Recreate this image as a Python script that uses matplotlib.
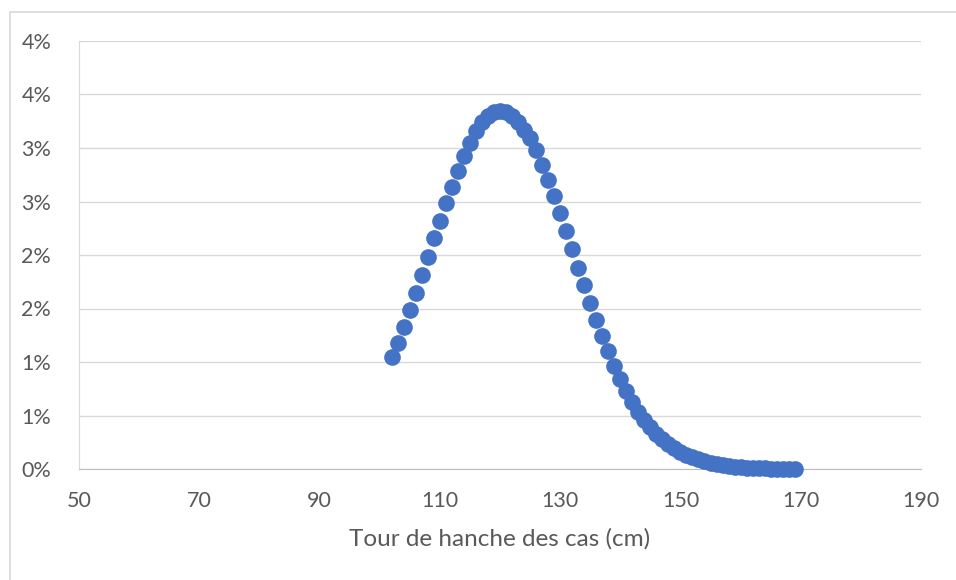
import matplotlib.pyplot as plt
from matplotlib.ticker import FuncFormatter, MultipleLocator, FixedLocator
from matplotlib.lines import Line2D

# tour de hanche (cm) and share of cases
hanche = list(range(102, 170))
part = [0.01047, 0.01178, 0.01327, 0.01486, 0.01645, 0.01813, 0.01981, 0.02159,
        0.02318, 0.02486, 0.02636, 0.02785, 0.02925, 0.03047, 0.03159, 0.03243,
        0.03299, 0.03336, 0.03346, 0.03336, 0.03299, 0.03243, 0.03168, 0.03093,
        0.02981, 0.02841, 0.02701, 0.02551, 0.02393, 0.02224, 0.02056, 0.01879,
        0.01720, 0.01551, 0.01393, 0.01243, 0.01103, 0.00963, 0.00841, 0.00729,
        0.00626, 0.00533, 0.00458, 0.00393, 0.00327, 0.00280, 0.00234, 0.00196,
        0.00159, 0.00131, 0.00112, 0.00093, 0.00075, 0.00056, 0.00047, 0.00037,
        0.00028, 0.00019, 0.00016, 0.00012, 0.00009, 0.00007, 0.00005, 0.00004,
        0.00003, 0.00002, 0.00001, 0.00001]
x_ticks = [50, 70, 90, 110, 130, 150, 170, 190]

plt.rcParams['font.family'] = ['Lato', 'DejaVu Sans']

fig = plt.figure(figsize=(9.56, 5.8), dpi=100)
ax = fig.add_axes([79/956, 1-469/580, (921-79)/956, (469-41)/580])

ax.plot(hanche, part, 'o', color='#4472C4', markersize=12, markeredgewidth=0, clip_on=False, zorder=3)

ax.set_xlim(50, 190)
ax.set_ylim(0, 0.04)
ax.xaxis.set_major_locator(FixedLocator(x_ticks))
ax.yaxis.set_major_locator(MultipleLocator(0.005))
# excel style rounding (0.5% -> 1%)
ax.yaxis.set_major_formatter(FuncFormatter(lambda v, p: f'{int(v*100 + 0.5 + 1e-9)}%'))
ax.grid(axis='y', color='#d9d9d9', linewidth=1)
ax.set_axisbelow(True)
ax.tick_params(length=0, labelsize=15.5, labelcolor='#595959')
ax.tick_params(axis='x', pad=16)
ax.tick_params(axis='y', pad=20)
for s in ['top', 'right']:
    ax.spines[s].set_visible(False)
ax.spines['left'].set_color('#d9d9d9')
ax.spines['bottom'].set_color('#bfbfbf')
ax.set_xlabel('Tour de hanche des cas (cm)', fontsize=17.5, color='#595959', labelpad=12)

# chart border
fig.add_artist(Line2D([10/956, 1], [1-12/580]*2, color='#d9d9d9', lw=1.2))
fig.add_artist(Line2D([10/956]*2, [0, 1-12/580], color='#d9d9d9', lw=1.2))

fig.savefig('out.png', dpi=100)
